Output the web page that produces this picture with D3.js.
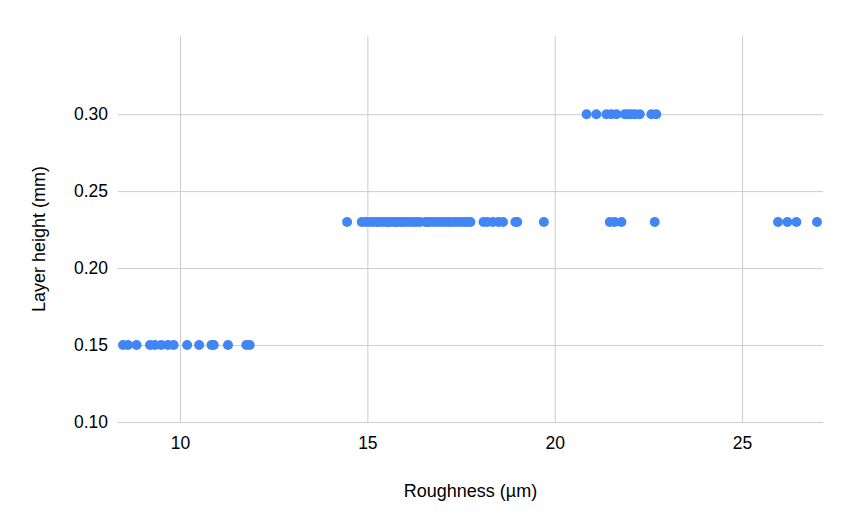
<!DOCTYPE html>
<html>
<head>
<meta charset="utf-8">
<script src="https://cdn.jsdelivr.net/npm/d3@7"></script>
<style>
  body { margin: 0; background: #fff; }
  svg { display: block; font-family: Arial, "Liberation Sans", sans-serif; }
</style>
</head>
<body>
<svg id="chart" width="850" height="527"></svg>
<script>
// roughness (µm) readings for each layer height
const roughness015 = [8.48, 8.61, 8.84, 9.2, 9.33, 9.5, 9.68, 9.83, 10.19, 10.51, 10.84, 10.9, 11.28, 11.77, 11.86];
const roughness023 = [14.46, 14.85, 14.95, 15.05, 15.15, 15.25, 15.3, 15.4, 15.5, 15.55, 15.6, 15.7, 15.75,
  15.8, 15.9, 15.95, 16.05, 16.15, 16.25, 16.3, 16.4, 16.55, 16.6, 16.65, 16.75, 16.85, 16.95, 17.05,
  17.15, 17.2, 17.3, 17.4, 17.5, 17.6, 17.68, 17.75, 18.1, 18.2, 18.35, 18.5, 18.62, 18.95, 19.0, 19.71,
  21.47, 21.6, 21.78, 22.67, 25.96, 26.21, 26.45, 27.0];
const roughness030 = [20.85, 21.11, 21.38, 21.51, 21.65, 21.87, 21.96, 22.05, 22.14, 22.27, 22.58, 22.71];
const layerHeights = [0.15, 0.23, 0.30];

const xTicks = [10, 15, 20, 25];
const yTicks = [0.10, 0.15, 0.20, 0.25, 0.30];

const width = 850;
const height = 527;
const marginLeft = 118;
const marginRight = 27;
const marginTop = 36;
const marginBottom = 105;

const points = [roughness015, roughness023, roughness030].flatMap((arr, i) =>
  arr.map((r) => ({ x: r, y: layerHeights[i] }))
);

const svg = d3.select("#chart");

const xScale = d3.scaleLinear()
  .domain([8.345, 27.16])
  .range([marginLeft, width - marginRight]);
const yScale = d3.scaleLinear()
  .domain([0.10, 0.3508])
  .range([height - marginBottom, marginTop]);

// vertical grid
const xAxis = d3.axisBottom(xScale)
  .tickValues(xTicks)
  .tickSize(-(height - marginBottom - marginTop))
  .tickPadding(10)
  .tickFormat(d3.format("d"));
const gx = svg.append("g")
  .attr("class", "x-axis")
  .attr("transform", `translate(0, ${height - marginBottom})`)
  .call(xAxis);
gx.select(".domain").remove();

const yAxis = d3.axisLeft(yScale)
  .tickValues(yTicks)
  .tickSize(-(width - marginLeft - marginRight))
  .tickPadding(10)
  .tickFormat(d3.format(".2f"));
const gy = svg.append("g")
  .attr("class", "y-axis")
  .attr("transform", `translate(${marginLeft}, 0)`)
  .call(yAxis);
gy.select(".domain").remove();

const styleAxis = (g) => {
  g.selectAll("line").attr("stroke", "#cccccc").attr("stroke-width", 1);
  g.selectAll("text").attr("fill", "#000").attr("font-size", "17.5px");
};
styleAxis(gx);
styleAxis(gy);
gx.selectAll("text").attr("dy", "0.95em");

svg.append("g")
  .selectAll("circle")
  .data(points)
  .enter()
  .append("circle")
  .attr("cx", (d) => xScale(d.x))
  .attr("cy", (d) => yScale(d.y))
  .attr("r", 5)
  .attr("fill", "#4285f4");

svg.append("text")
  .attr("x", (marginLeft + width - marginRight) / 2)
  .attr("y", 497)
  .attr("text-anchor", "middle")
  .attr("font-size", "18px")
  .attr("fill", "#000")
  .text("Roughness (µm)");

svg.append("text")
  .attr("transform", "translate(45, 239) rotate(-90)")
  .attr("text-anchor", "middle")
  .attr("font-size", "18px")
  .attr("fill", "#000")
  .text("Layer height (mm)");
</script>
</body>
</html>
